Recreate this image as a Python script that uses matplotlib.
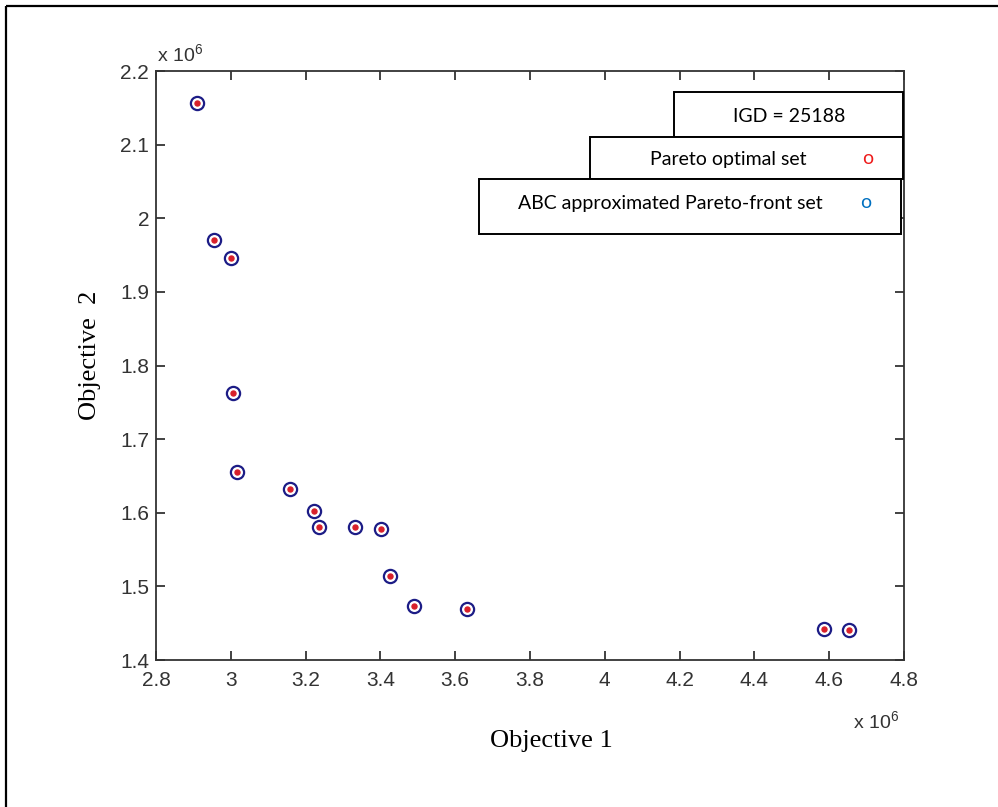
import matplotlib
matplotlib.use("Agg")
import matplotlib.pyplot as plt
from matplotlib.patches import Rectangle
from matplotlib.ticker import FuncFormatter, MultipleLocator

plt.rcParams['font.family'] = 'Liberation Sans'
plt.rcParams['mathtext.fontset'] = 'custom'
plt.rcParams['mathtext.rm'] = 'Liberation Sans'

# Objective values of the non-dominated solutions
objective_1 = [2909000, 2956000, 3001000, 3007000, 3016000, 3158000, 3222000, 3237000,
               3333000, 3402000, 3426000, 3489000, 3632000, 4586000, 4653000]
objective_2 = [2156000, 1971000, 1945500, 1763000, 1655600, 1632500, 1602200, 1580900,
               1580900, 1578600, 1513900, 1473500, 1469000, 1441800, 1440500]

# ABC run returned the same front as the reference set
abc_objective_1 = list(objective_1)
abc_objective_2 = list(objective_2)

igd_value = 25188
legend_labels = ["Pareto optimal set", "ABC approximated Pareto-front set"]

W, H = 998, 807
fig = plt.figure(figsize=(W / 100, H / 100), dpi=100)


def fx(px):
    return px / W


def fy(py):
    return 1 - py / H


# main axes (MATLAB style box with inward ticks)
ax = fig.add_axes([fx(156), fy(660), fx(904) - fx(156), fy(71) - fy(660)])
ax.plot(abc_objective_1, abc_objective_2, linestyle='none', marker='o', markersize=9.5,
        markerfacecolor='none', markeredgecolor='#1c1c86', markeredgewidth=1.6)
ax.plot(objective_1, objective_2, linestyle='none', marker='o', markersize=3.6,
        markerfacecolor='#d8202a', markeredgecolor='#d8202a')

ax.set_xlim(2.8e6, 4.8e6)
ax.set_ylim(1.4e6, 2.2e6)
ax.xaxis.set_major_locator(MultipleLocator(0.2e6))
ax.yaxis.set_major_locator(MultipleLocator(0.1e6))
fmt = FuncFormatter(lambda v, pos: f'{v / 1e6:g}')
ax.xaxis.set_major_formatter(fmt)
ax.yaxis.set_major_formatter(fmt)

for sp in ax.spines.values():
    sp.set_color('#333333')
    sp.set_linewidth(1.3)
ax.tick_params(direction='in', length=6.5, width=1.3, color='#333333',
               top=True, right=True, labelsize=15, labelcolor='#333333', pad=5)
ax.tick_params(axis='x', pad=8)

# exponent labels
fig.text(fx(157), fy(55), r'x 10$^6$', fontsize=14, color='#333333',
         ha='left', va='center')
fig.text(fx(853), fy(722), r'x 10$^6$', fontsize=14, color='#333333',
         ha='left', va='center')

# axis titles
fig.text(fx(551), fy(741), 'Objective 1', fontsize=19, family='Liberation Serif',
         ha='center', va='center')
fig.text(fx(90), fy(355), 'Objective  2', fontsize=19, family='Liberation Serif',
         ha='center', va='center', rotation=90)

# overlay for the annotation boxes and the outer frame, in pixel units
ov = fig.add_axes([0, 0, 1, 1], zorder=5)
ov.set_xlim(0, W)
ov.set_ylim(H, 0)
ov.axis('off')
ov.patch.set_alpha(0)

boxes = [
    (674, 92, 903, 137),
    (590, 137, 903, 179),
    (479, 179, 901, 234),
]
for x0, y0, x1, y1 in boxes:
    ov.add_patch(Rectangle((x0, y0), x1 - x0, y1 - y0, facecolor='white',
                           edgecolor='black', linewidth=1.4))

box_font = 'Lato'
ov.text(789, 116, f'IGD = {igd_value}', fontsize=14, family=box_font,
        ha='center', va='center')
ov.text(728, 160, legend_labels[0], fontsize=14, family=box_font,
        ha='center', va='center')
ov.text(868, 159, 'o', fontsize=14, family=box_font, color='#ee1c1c',
        ha='center', va='center')
ov.text(670, 204, legend_labels[1], fontsize=14, family=box_font,
        ha='center', va='center')
ov.text(866, 203, 'o', fontsize=14, family=box_font, color='#0070c0',
        ha='center', va='center')

# outer frame
ov.plot([6, 6], [6, H], color='black', linewidth=1.6, solid_capstyle='butt')
ov.plot([6, W], [6, 6], color='black', linewidth=1.6, solid_capstyle='butt')

fig.savefig('out.png', dpi=100)
